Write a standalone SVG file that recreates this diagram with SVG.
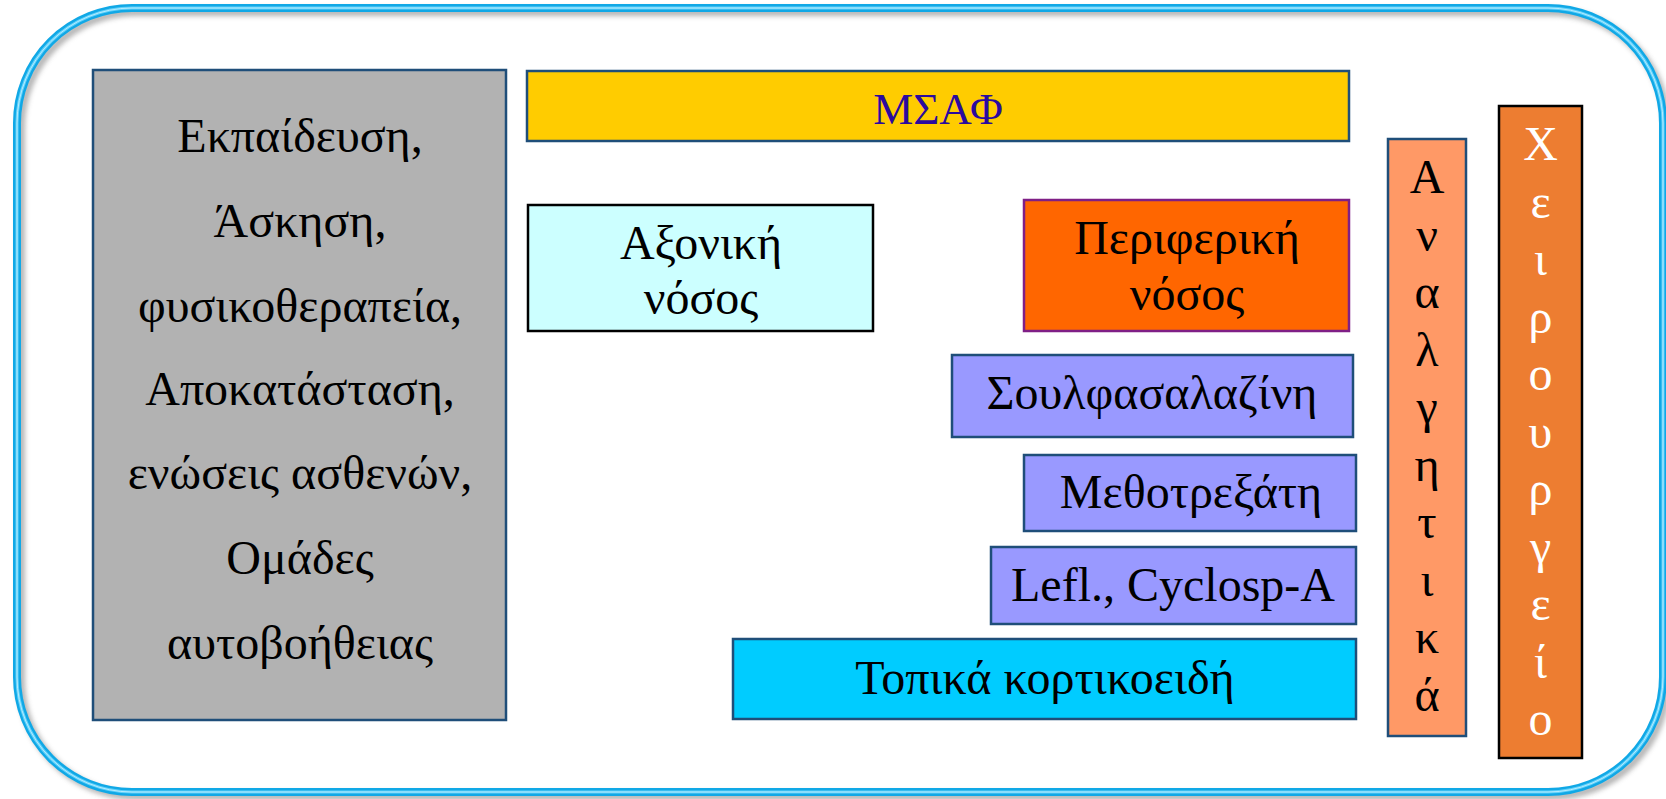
<svg xmlns="http://www.w3.org/2000/svg" width="1666" height="799" viewBox="0 0 1666 799">
  <defs>
    <filter id="drop" x="-5%" y="-5%" width="110%" height="110%">
      <feGaussianBlur stdDeviation="2.5"/>
    </filter>
    <style>
      text { font-family: "Liberation Serif", "Times New Roman", serif; font-size: 48px; text-anchor: middle; fill: #000; }
      .box { stroke-width: 2.5; }
      .navy { stroke: #1f4e79; }
      .grey { fill: #b2b2b2; }
      .gold { fill: #ffcc00; }
      .ice { fill: #ccffff; stroke: #000; }
      .orange { fill: #ff6600; stroke: #7f1f86; }
      .lilac { fill: #9999ff; }
      .sky { fill: #00ccff; }
      .peach { fill: #ff9966; }
      .rust { fill: #ed7d31; stroke: #000; }
      .indigo { fill: #2b0a9e; font-size: 45px; }
      .white { fill: #fff; }
    </style>
  </defs>

  <rect width="1666" height="799" fill="#fff"/>

  <!-- outer rounded frame: soft drop shade + cyan tube with a light core -->
  <g id="frame">
    <rect x="21" y="12" width="1646" height="784" rx="115" fill="none" stroke="#6e6e6e" stroke-width="8" opacity="0.5" filter="url(#drop)"/>
    <rect x="17" y="8" width="1646" height="784" rx="115" fill="none" stroke="#10a8e6" stroke-width="8"/>
    <rect x="17" y="8" width="1646" height="784" rx="115" fill="none" stroke="#5fd0fa" stroke-width="3"/>
    <rect x="17" y="8" width="1646" height="784" rx="115" fill="none" stroke="#b5ecff" stroke-width="1"/>
  </g>

  <g id="connectors"/>

  <g id="care">
    <rect class="box navy grey" x="93" y="70" width="413" height="650"/>
    <text x="300" y="152">Εκπαίδευση,</text>
    <text x="300" y="237">Άσκηση,</text>
    <text x="300" y="322">φυσικοθεραπεία,</text>
    <text x="300" y="405">Αποκατάσταση,</text>
    <text x="300" y="489">ενώσεις ασθενών,</text>
    <text x="300" y="574">Ομάδες</text>
    <text x="300" y="659">αυτοβοήθειας</text>
  </g>

  <g id="msaf">
    <rect class="box navy gold" x="527" y="71" width="822" height="70"/>
    <text class="indigo" x="938" y="124">ΜΣΑΦ</text>
  </g>

  <g id="axial">
    <rect class="box ice" x="528" y="205" width="345" height="126"/>
    <text x="701" y="259">Αξονική</text>
    <text x="701" y="314">νόσος</text>
  </g>

  <g id="peripheral">
    <rect class="box orange" x="1024" y="200" width="325" height="131"/>
    <text x="1187" y="254">Περιφερική</text>
    <text x="1187" y="310">νόσος</text>
  </g>

  <g id="sulfasalazine">
    <rect class="box navy lilac" x="952" y="355" width="401" height="82"/>
    <text x="1152" y="409">Σουλφασαλαζίνη</text>
  </g>

  <g id="methotrexate">
    <rect class="box navy lilac" x="1024" y="455" width="332" height="76"/>
    <text x="1191" y="508">Μεθοτρεξάτη</text>
  </g>

  <g id="leflunomide">
    <rect class="box navy lilac" x="991" y="547" width="365" height="77"/>
    <text x="1173" y="601">Lefl., Cyclosp-A</text>
  </g>

  <g id="corticosteroids">
    <rect class="box navy sky" x="733" y="639" width="623" height="80"/>
    <text x="1045" y="694">Τοπικά κορτικοειδή</text>
  </g>

  <g id="analgesics">
    <rect class="box navy peach" x="1388" y="139" width="78" height="597"/>
    <text x="1427" y="193">Α</text>
    <text x="1427" y="250.5">ν</text>
    <text x="1427" y="308">α</text>
    <text x="1427" y="365.5">λ</text>
    <text x="1427" y="423">γ</text>
    <text x="1427" y="480.5">η</text>
    <text x="1427" y="538">τ</text>
    <text x="1427" y="595.5">ι</text>
    <text x="1427" y="653">κ</text>
    <text x="1427" y="710.5">ά</text>
  </g>

  <g id="surgery">
    <rect class="box rust" x="1499" y="106" width="83" height="652"/>
    <text class="white" x="1540.5" y="160">Χ</text>
    <text class="white" x="1540.5" y="217.5">ε</text>
    <text class="white" x="1540.5" y="275">ι</text>
    <text class="white" x="1540.5" y="332.5">ρ</text>
    <text class="white" x="1540.5" y="390">ο</text>
    <text class="white" x="1540.5" y="447.5">υ</text>
    <text class="white" x="1540.5" y="505">ρ</text>
    <text class="white" x="1540.5" y="562.5">γ</text>
    <text class="white" x="1540.5" y="620">ε</text>
    <text class="white" x="1540.5" y="677.5">ί</text>
    <text class="white" x="1540.5" y="735">ο</text>
  </g>
</svg>
